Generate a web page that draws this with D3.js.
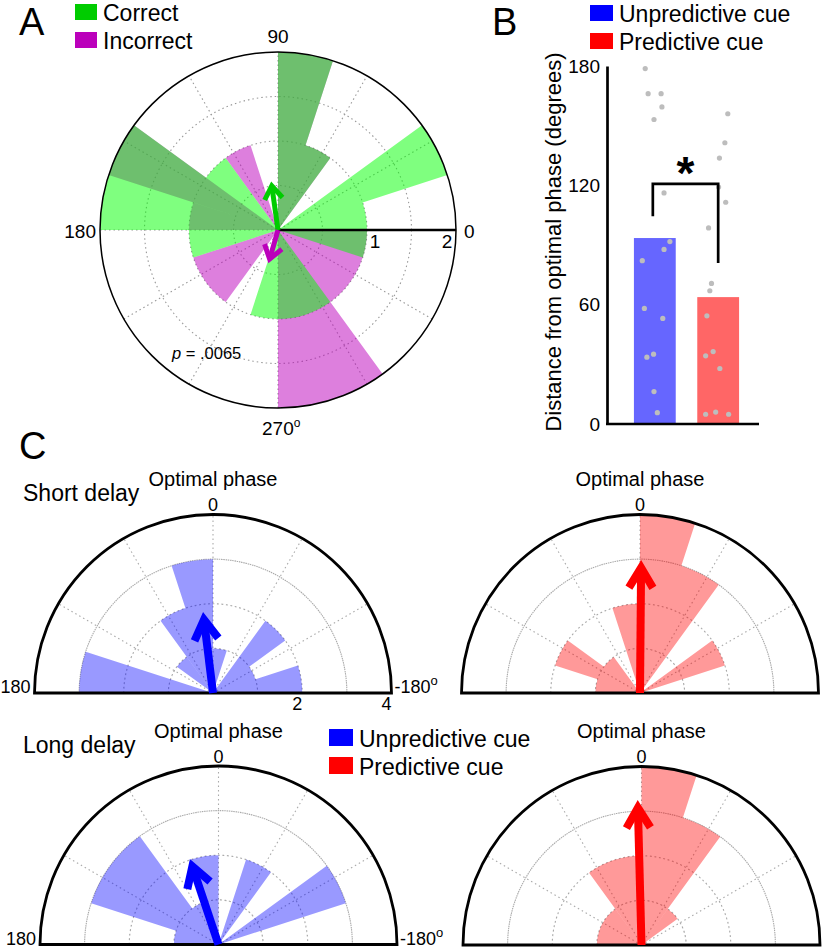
<!DOCTYPE html>
<html>
<head>
<meta charset="utf-8">
<script src="https://cdn.jsdelivr.net/npm/d3@7"></script>
<style>
  body { margin: 0; background: #fff; }
  svg { display: block; font-family: "Liberation Sans", Arial, Helvetica, sans-serif; }
</style>
</head>
<body>
<svg id="fig" width="826" height="948"></svg>
<script>
// ---------- data ----------
// A: phase at response, 18 deg bins (counts)
var binStartA = [0, 18, 36, 54, 72, 90, 108, 126, 144, 162, 180, 198, 216, 234, 252, 270, 288, 306, 324, 342];
var correctCounts   = [1, 2, 0, 1, 2, 0, 0, 1, 2, 2, 1, 0, 0, 0, 1, 1, 1, 0, 0, 1];
var incorrectCounts = [0, 0, 0, 1, 2, 0, 1, 0, 2, 1, 0, 1, 1, 0, 0, 2, 2, 1, 1, 1];
var meanAngleA  = [98, 254];     // correct, incorrect (deg)
var meanLengthA = [0.55, 0.39];
var gridRingsA = [0.5, 1, 1.5];
var ringLabelsA = [1, 2];

// B: distance from optimal phase
var cues = ["Unpredictive cue", "Predictive cue"];
var barMeans = [93.5, 63.8];
var unpredDist = [178.7, 166.1, 166.1, 159.4, 153.1, 116.2, 91.7, 87.8, 82.1, 58.1, 53.1, 33.6, 35.1, 16.3, 5.7];
var predDist   = [156, 141.4, 133.7, 119.1, 111.5, 98.6, 70.7, 67.0, 54.4, 34.3, 36.4, 27.9, 4.9, 6.0, 4.9];
var unpredJitter = [-0.23, -0.16, 0.15, 0.17, -0.02, 0.22, 0.36, 0.22, -0.30, -0.25, 0.19, -0.19, -0.03, -0.02, 0.06];
var predJitter   = [0.23, 0.16, 0.03, 0.01, 0.18, -0.23, -0.16, -0.20, -0.27, -0.30, -0.12, 0.04, -0.30, -0.06, 0.25];
var yTicksB = [0, 60, 120, 180];
var sigBracket = [104.4, 120.7, 81];   // left foot, top, right foot

// C: phase relative to optimal, 36 deg bins from -180 to 180
var phaseBinStart = [-180, -144, -108, -72, -36, 0, 36, 72, 108, 144];
var shortUnpred = [2, 1, 2, 0, 1, 3, 2, 1, 0, 3];
var shortPred   = [0, 2, 0, 3, 4, 2, 0, 1, 2, 1];
var longUnpred  = [0, 3, 0, 2, 0, 2, 1, 3, 3, 1];
var longPred    = [0, 0, 1, 3, 4, 2, 2, 1, 1, 1];
var meanPhaseC  = [14, -1, 37, 3];
var meanLengthC = [1.83, 2.98, 2.02, 3.25];
var gridRingsC = [1, 2, 3];
var ringLabelsC = [2, 4];

// ---------- helpers ----------
var svg = d3.select("#fig");

function toArc(deg) { return (90 - deg) * Math.PI / 180; }

function dotted(sel, col) {
  return sel.attr("fill", "none").attr("stroke", col || "#a0a0a0")
    .attr("stroke-width", 1.1).attr("stroke-dasharray", "1.5,3");
}

function drawArrow(g, deg, len, color, w, headLen, headHalf) {
  var a = deg * Math.PI / 180, ux = Math.cos(a), uy = -Math.sin(a);
  var nx = -uy, ny = ux;
  var over = (w / 2) / Math.sin(Math.atan(headHalf / headLen));
  var tx = ux * (len - over), ty = uy * (len - over);
  g.append("line")
    .attr("x1", 0).attr("y1", 0)
    .attr("x2", tx - ux * 3).attr("y2", ty - uy * 3)
    .attr("stroke", color).attr("stroke-width", w);
  g.append("polyline")
    .attr("points", [[tx - ux * headLen + nx * headHalf, ty - uy * headLen + ny * headHalf],
                     [tx, ty],
                     [tx - ux * headLen - nx * headHalf, ty - uy * headLen - ny * headHalf]].join(" "))
    .attr("fill", "none").attr("stroke", color).attr("stroke-width", w)
    .attr("stroke-linejoin", "miter").attr("stroke-miterlimit", 10);
}

function label(x, y, txt, size, anchor) {
  return svg.append("text").attr("x", x).attr("y", y).text(txt)
    .attr("font-size", size).attr("text-anchor", anchor || "start");
}

function legendItem(x, y, color, txt, w, h) {
  svg.append("rect").attr("x", x).attr("y", y).attr("width", w).attr("height", h).attr("fill", color);
  label(x + w + 6, y + h + 1, txt, 23);
}

// one path per series so neighbouring wedges show no seams
function roseLayer(g, starts, counts, arc, color, op) {
  var d = starts.map(function(s, i) { return {s: s, v: counts[i]}; })
    .filter(function(d) { return d.v > 0; })
    .map(arc).join("");
  g.append("path").attr("d", d).attr("fill", color).attr("opacity", op);
}

// ---------- panel A ----------
var RA = 178;
var rA = d3.scaleLinear().domain([0, 2]).range([0, RA]);
var A = svg.append("g").attr("transform", "translate(278,230)");

gridRingsA.forEach(function(v) {
  dotted(A.append("circle").attr("r", rA(v)), "#999");
});
[0, 30, 60, 90, 120, 150].forEach(function(d) {
  var a = d * Math.PI / 180;
  dotted(A.append("line")
    .attr("x1", -RA * Math.cos(a)).attr("y1", RA * Math.sin(a))
    .attr("x2", RA * Math.cos(a)).attr("y2", -RA * Math.sin(a)), "#999");
});

var arcA = d3.arc().innerRadius(0)
  .outerRadius(function(d) { return rA(d.v); })
  .startAngle(function(d) { return toArc(d.s + 18); })
  .endAngle(function(d) { return toArc(d.s); });

roseLayer(A, binStartA, incorrectCounts, arcA, "#bb00bb", 0.5);
roseLayer(A, binStartA, correctCounts, arcA, "#00ff00", 0.5);

A.append("line").attr("x1", 0).attr("y1", 0).attr("x2", RA).attr("y2", 0)
  .attr("stroke", "#000").attr("stroke-width", 2.5);
A.append("circle").attr("r", RA).attr("fill", "none").attr("stroke", "#000").attr("stroke-width", 1.5);

drawArrow(A, meanAngleA[0], rA(meanLengthA[0]), "#00cc00", 5, 13, 9);
drawArrow(A, meanAngleA[1], rA(meanLengthA[1]), "#bb00bb", 5, 13, 9);

label(278, 43, "90", 19, "middle");
label(278 - RA - 4, 238, "180", 19, "end");
label(278 + RA + 8, 238, "0", 19, "start");
var t270 = label(262, 435, "270", 19, "start");
t270.append("tspan").attr("font-size", 12).attr("dy", -8).text("o");
[8, -9].forEach(function(dx, i) {
  label(278 + rA(ringLabelsA[i]) + dx, 248, ringLabelsA[i], 19, "middle");
});
var pt = label(172, 359, "", 16.5, "start");
pt.append("tspan").attr("font-style", "italic").text("p");
pt.append("tspan").text(" = .0065");

legendItem(75, 4, "#00cc00", "Correct", 22, 16);
legendItem(75, 32, "#bb00bb", "Incorrect", 22, 16);

// ---------- panel B ----------
var y = d3.scaleLinear().domain([0, 180]).range([424, 66]);
var x = d3.scaleBand().domain(cues).range([607, 766]).paddingInner(0.34).paddingOuter(0.425);
var bw = x.bandwidth();
var B = svg.append("g");

B.selectAll("rect.bar").data(cues).enter().append("rect")
  .attr("x", function(d) { return x(d); })
  .attr("y", function(d, i) { return y(barMeans[i]); })
  .attr("width", bw)
  .attr("height", function(d, i) { return y(0) - y(barMeans[i]); })
  .attr("fill", function(d, i) { return i === 0 ? "#6666ff" : "#ff6666"; });

[[unpredDist, unpredJitter], [predDist, predJitter]].forEach(function(grp, gi) {
  B.selectAll("circle.g" + gi).data(grp[0]).enter().append("circle")
    .attr("cx", function(d, i) { return x(cues[gi]) + bw / 2 + grp[1][i] * bw; })
    .attr("cy", function(d) { return y(d); })
    .attr("r", 2.6).attr("fill", "#bdbdbd");
});

var yAxis = B.append("g").attr("transform", "translate(607,0)")
  .call(d3.axisLeft(y).tickValues(yTicksB).tickSize(0).tickPadding(7));
yAxis.select(".domain").attr("stroke-width", 2.7);
yAxis.selectAll("text").attr("font-size", 19).attr("font-family", null).attr("fill", "#000");
B.append("line").attr("x1", 606).attr("x2", 759).attr("y1", y(0)).attr("y2", y(0))
  .attr("stroke", "#000").attr("stroke-width", 2.7);

var xl = x(cues[0]) + bw / 2 - 2, xr = x(cues[1]) + bw / 2;
B.append("path")
  .attr("d", "M" + xl + "," + y(sigBracket[0]) + "V" + y(sigBracket[1]) + "H" + xr + "V" + y(sigBracket[2]))
  .attr("fill", "none").attr("stroke", "#000").attr("stroke-width", 2.7);
label((xl + xr) / 2, y(sigBracket[1]) + 5, "*", 46, "middle").attr("font-weight", "bold");

svg.append("text")
  .attr("transform", "translate(561,242) rotate(-90)")
  .attr("text-anchor", "middle").attr("font-size", 22)
  .text("Distance from optimal phase (degrees)");

legendItem(590, 5, "#0000ff", "Unpredictive cue", 23, 16);
legendItem(590, 33, "#ff0000", "Predictive cue", 23, 16);

// ---------- panel C ----------
var RC = 178.5;
var rC = d3.scaleLinear().domain([0, 4]).range([0, RC]);
var phaseToDisp = d3.scaleLinear().domain([-180, 180]).range([0, 180]);
var arcC = d3.arc().innerRadius(0)
  .outerRadius(function(d) { return rC(d.v); })
  .startAngle(function(d) { return toArc(phaseToDisp(d.s + 36)); })
  .endAngle(function(d) { return toArc(phaseToDisp(d.s)); });

function halfRose(cx, cy, counts, color, k, sideLabels, ringLabels) {
  var g = svg.append("g").attr("transform", "translate(" + cx + "," + cy + ")");
  gridRingsC.forEach(function(v) {
    dotted(g.append("path").attr("d", d3.arc()({innerRadius: rC(v), outerRadius: rC(v), startAngle: -Math.PI / 2, endAngle: Math.PI / 2})), "#aaa");
  });
  [30, 60, 90, 120, 150].forEach(function(d) {
    var a = d * Math.PI / 180;
    dotted(g.append("line").attr("x1", 0).attr("y1", 0)
      .attr("x2", RC * Math.cos(a)).attr("y2", -RC * Math.sin(a)), "#aaa");
  });
  roseLayer(g, phaseBinStart, counts, arcC, color, 0.4);

  g.append("path")
    .attr("d", "M" + (-RC) + ",0A" + RC + "," + RC + " 0 0 1 " + RC + ",0Z")
    .attr("fill", "none").attr("stroke", "#000").attr("stroke-width", 2.8);

  drawArrow(g, phaseToDisp(meanPhaseC[k]), rC(meanLengthC[k]), color, 8, 20, 12);

  label(cx, cy - 207, "Optimal phase", 20, "middle");
  label(cx, cy - 182, "0", 18, "middle");
  if (sideLabels) {
    label(cx - RC - 4, cy, "180", 18, "end");
    var t = label(cx + RC + 3, cy, "-180", 18, "start");
    t.append("tspan").attr("font-size", 13).attr("dy", -8).text("o");
  }
  if (ringLabels) {
    ringLabels.forEach(function(v) { label(cx + rC(v), cy + 17, v, 18, "end"); });
  }
}

halfRose(213, 693, shortUnpred, "#0000ff", 0, true, ringLabelsC);
halfRose(640, 693, shortPred, "#ff0000", 1, false, null);
halfRose(218.5, 944.5, longUnpred, "#0000ff", 2, true, null);
halfRose(641.5, 945, longPred, "#ff0000", 3, false, null);

label(23, 501, "Short delay", 23);
label(23, 753, "Long delay", 23);
legendItem(329, 729, "#0000ff", "Unpredictive cue", 24, 17);
legendItem(329, 757, "#ff0000", "Predictive cue", 24, 17);

// panel letters
label(19, 35, "A", 38);
label(492, 35, "B", 38);
label(19, 459, "C", 38);
</script>
</body>
</html>
